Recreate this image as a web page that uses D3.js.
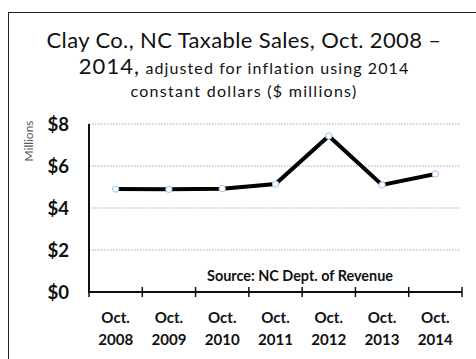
<!DOCTYPE html>
<html>
<head>
<meta charset="utf-8">
<script src="https://cdn.jsdelivr.net/npm/d3@7/dist/d3.min.js"></script>
<style>
  html, body { margin: 0; padding: 0; background: #fff; }
  svg { display: block; }
  text { font-family: Lato, "Open Sans", sans-serif; }
</style>
</head>
<body>
<svg id="chart" width="476" height="359"></svg>
<script>
// Taxable sales, Clay County NC, October of each year (2014 $ millions)
const years = ["2008", "2009", "2010", "2011", "2012", "2013", "2014"];
const sales = [4.90, 4.89, 4.92, 5.14, 7.43, 5.10, 5.62];
const yTicks = [0, 2, 4, 6, 8];
const yTickLabels = ["$0", "$2", "$4", "$6", "$8"];

const svg = d3.select("#chart");

// Spread letters so a text element spans the given width
function spreadTo(sel, width) {
  const node = sel.node();
  const w = node.getComputedTextLength();
  const n = node.getNumberOfChars();
  sel.attr("letter-spacing", ((width - w) / n).toFixed(3));
}
// Scale font size so a text element spans the given width
function sizeTo(sel, width) {
  const fs = parseFloat(sel.attr("font-size"));
  const w = sel.node().getComputedTextLength();
  return fs * width / w;
}

// outer frame (extends past the right and bottom edges)
svg.append("rect")
  .attr("x", 8.5).attr("y", 12.5)
  .attr("width", 500).attr("height", 400)
  .attr("fill", "none").attr("stroke", "#222").attr("stroke-width", 1);

const x = d3.scaleBand().domain(years).range([89, 462]).padding(0);
const y = d3.scaleLinear().domain([0, 8]).range([292, 124]);

// Title
const t1 = svg.append("text")
  .attr("x", 244).attr("y", 47.5).attr("text-anchor", "middle")
  .attr("font-size", 22).attr("fill", "#111")
  .text("Clay Co., NC Taxable Sales, Oct. 2008 \u2013");
spreadTo(t1, 395);

const t2 = svg.append("text")
  .attr("x", 244).attr("y", 74).attr("text-anchor", "middle")
  .attr("font-size", 16).attr("fill", "#111");
t2.append("tspan").attr("font-size", 22).text("2014,");
t2.append("tspan").text(" adjusted for inflation using 2014");
spreadTo(t2, 331);

const t3 = svg.append("text")
  .attr("x", 244).attr("y", 97).attr("text-anchor", "middle")
  .attr("font-size", 16).attr("fill", "#111")
  .text("constant dollars ($ millions)");
spreadTo(t3, 227);

// Gridlines
svg.append("g")
  .selectAll("line")
  .data(yTicks.filter(d => d > 0))
  .join("line")
  .attr("x1", 89).attr("x2", 461)
  .attr("y1", d => y(d)).attr("y2", d => y(d))
  .attr("stroke", "#a6a6a6").attr("stroke-width", 1)
  .attr("stroke-dasharray", "1.5,1.5");

// Y axis labels
const yl = svg.append("g")
  .selectAll("text")
  .data(yTicks)
  .join("text")
  .attr("x", 69).attr("y", d => y(d))
  .attr("dy", "0.36em")
  .attr("text-anchor", "end")
  .attr("font-size", 15).attr("font-weight", "bold").attr("fill", "#111")
  .text((d, i) => yTickLabels[i]);
{
  const fs = sizeTo(d3.select(yl.nodes()[4]), 21.6);
  yl.attr("font-size", fs.toFixed(2));
}

// Y axis unit label
const ml = svg.append("text")
  .attr("transform", "translate(33,141) rotate(-90)")
  .attr("text-anchor", "middle")
  .attr("font-size", 9).attr("fill", "#595959")
  .text("Millions");
ml.attr("font-size", sizeTo(ml, 41).toFixed(2));

// Y axis line
svg.append("line")
  .attr("x1", 89).attr("x2", 89)
  .attr("y1", y(8)).attr("y2", y(0))
  .attr("stroke", "#111").attr("stroke-width", 2);

// X axis line with ticks at category boundaries
const xAxis = svg.append("g");
xAxis.append("line")
  .attr("x1", 88).attr("x2", 462)
  .attr("y1", y(0)).attr("y2", y(0))
  .attr("stroke", "#111").attr("stroke-width", 2);
const bounds = years.map(d => x(d)).concat([x(years[years.length - 1]) + x.bandwidth()]);
xAxis.selectAll("line.tick")
  .data(bounds)
  .join("line")
  .attr("class", "tick")
  .attr("x1", d => d).attr("x2", d => d)
  .attr("y1", y(0) - 5).attr("y2", y(0) + 5)
  .attr("stroke", "#111").attr("stroke-width", 1.5);

// X labels
const xl = xAxis.selectAll("text.lab")
  .data(years)
  .join("text")
  .attr("class", "lab")
  .attr("text-anchor", "middle")
  .attr("font-size", 14).attr("font-weight", "bold").attr("fill", "#111");
xl.append("tspan")
  .attr("x", d => x(d) + x.bandwidth() / 2).attr("y", 323)
  .text("Oct.");
const yr = xl.append("tspan")
  .attr("x", d => x(d) + x.bandwidth() / 2).attr("y", 345)
  .text(d => d);
{
  const w = yr.nodes()[0].getComputedTextLength();
  xl.attr("font-size", (14 * 35 / w).toFixed(2));
}

// Source note
const src = svg.append("text")
  .attr("x", 300).attr("y", 281).attr("text-anchor", "middle")
  .attr("font-size", 12).attr("font-weight", "bold").attr("fill", "#111")
  .text("Source: NC Dept. of Revenue");
src.attr("font-size", sizeTo(src, 186).toFixed(2));

// Sales line
const pts = years.map((d, i) => ({ year: d, value: sales[i] }));
svg.append("path")
  .datum(pts)
  .attr("fill", "none")
  .attr("stroke", "#000")
  .attr("stroke-width", 4)
  .attr("stroke-linejoin", "miter")
  .attr("d", d3.line()
    .x(d => x(d.year) + x.bandwidth() / 2)
    .y(d => y(d.value)));

// Markers
svg.append("g")
  .selectAll("circle")
  .data(pts)
  .join("circle")
  .attr("cx", d => x(d.year) + x.bandwidth() / 2)
  .attr("cy", d => y(d.value))
  .attr("r", 3.2)
  .attr("fill", "#fff")
  .attr("stroke", "#9dc3e6")
  .attr("stroke-width", 1);
</script>
</body>
</html>
